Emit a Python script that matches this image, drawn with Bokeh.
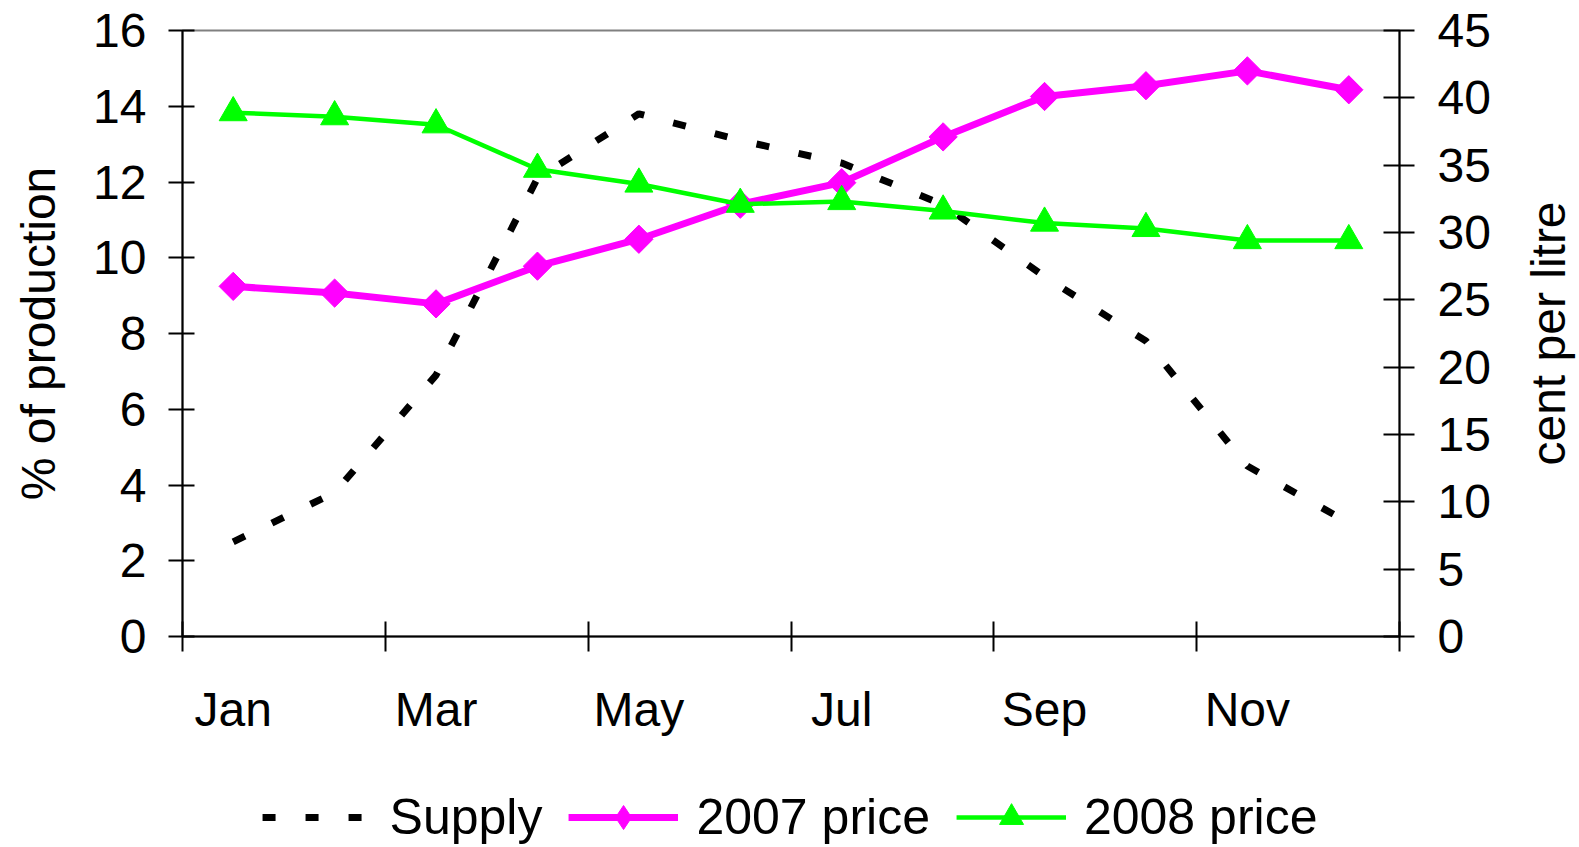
import math
from bokeh.plotting import figure
from bokeh.layouts import column, row
from bokeh.models import LinearAxis, Range1d, FixedTicker, Legend, LegendItem
from bokeh.embed import file_html
from bokeh.resources import INLINE

# ---- data ----
months = ["Jan", "Feb", "Mar", "Apr", "May", "Jun",
          "Jul", "Aug", "Sep", "Oct", "Nov", "Dec"]
supply = [2.5, 3.8, 6.9, 12.1, 13.8, 13.1, 12.5, 11.4, 9.5, 7.8, 4.5, 3.0]
price_2007 = [26.0, 25.5, 24.7, 27.5, 29.5, 32.1, 33.7, 37.1, 40.1, 40.9, 42.0, 40.6]
price_2008 = [38.9, 38.6, 38.0, 34.7, 33.6, 32.1, 32.3, 31.6, 30.7, 30.3, 29.4, 29.4]
left_ticks = [0, 2, 4, 6, 8, 10, 12, 14, 16]
right_ticks = [0, 5, 10, 15, 20, 25, 30, 35, 40, 45]
left_title = "% of production"
right_title = "cent per litre"

FONT = "Liberation Sans"
MAGENTA = "#FF00FF"
GREEN = "#00FF00"

n = len(months)
x = [i + 0.5 for i in range(n)]
label_pos = [i + 0.5 for i in range(0, n, 2)]
label_txt = {float(i + 0.5): months[i] for i in range(0, n, 2)}
boundaries = list(range(0, n + 1, 2))

TOP, BOTTOM = 30, 104
MAIN_H = 740

p = figure(width=1494, height=MAIN_H, x_range=Range1d(0, n), y_range=Range1d(0, 16),
           output_backend="svg", toolbar_location=None,
           x_axis_type=None, y_axis_type=None,
           min_border_left=182, min_border_right=95,
           min_border_top=TOP, min_border_bottom=BOTTOM)
p.extra_y_ranges = {"price": Range1d(0, 45)}
p.outline_line_color = "#808080"
p.outline_line_width = 2
p.background_fill_color = "white"
p.border_fill_color = "white"

# x axis
xa = LinearAxis(ticker=FixedTicker(ticks=label_pos, minor_ticks=boundaries),
                major_label_overrides=label_txt)
xa.axis_line_color = "black"
xa.axis_line_width = 2
xa.major_tick_in = 0
xa.major_tick_out = 0
xa.minor_tick_in = 15
xa.minor_tick_out = 15
xa.minor_tick_line_width = 2
xa.minor_tick_line_color = "black"
xa.major_label_standoff = 31
xa.major_label_text_font = FONT
xa.major_label_text_font_size = "48px"
xa.major_label_text_color = "black"
p.add_layout(xa, "below")

# left y axis
yl = LinearAxis(ticker=FixedTicker(ticks=left_ticks), axis_label=left_title)
yl.axis_line_color = "black"
yl.axis_line_width = 2
yl.major_tick_in = 12
yl.major_tick_out = 14
yl.major_tick_line_width = 2
yl.major_tick_line_color = "black"
yl.minor_tick_line_color = None
yl.major_label_standoff = 22
yl.major_label_text_font = FONT
yl.major_label_text_font_size = "48px"
yl.major_label_text_color = "black"
yl.axis_label_standoff = 25
yl.axis_label_text_font = FONT
yl.axis_label_text_font_size = "48px"
yl.axis_label_text_font_style = "normal"
yl.axis_label_text_color = "black"
p.add_layout(yl, "left")

# right y axis (its title sits in the narrow strip to the right)
yr = LinearAxis(y_range_name="price", ticker=FixedTicker(ticks=right_ticks))
yr.axis_line_color = "black"
yr.axis_line_width = 2
yr.major_tick_in = 16
yr.major_tick_out = 15
yr.major_tick_line_width = 2
yr.major_tick_line_color = "black"
yr.minor_tick_line_color = None
yr.major_label_standoff = 23
yr.major_label_text_font = FONT
yr.major_label_text_font_size = "48px"
yr.major_label_text_color = "black"
p.add_layout(yr, "right")

# series
p.line(x, supply, line_color="black", line_width=7, line_dash="13 30")
p.line(x, price_2007, y_range_name="price", line_color=MAGENTA, line_width=7)
p.scatter(x, price_2007, y_range_name="price", marker="square", angle=math.pi / 4,
          size=20, fill_color=MAGENTA, line_color=MAGENTA)
p.line(x, price_2008, y_range_name="price", line_color=GREEN, line_width=4.5)
p.scatter(x, price_2008, y_range_name="price", marker="triangle",
          size=28, fill_color=GREEN, line_color=GREEN)

# ---- narrow strip holding the right-hand axis title (reads bottom to top) ----
tf = figure(width=85, height=MAIN_H, x_range=Range1d(0, 1), y_range=Range1d(0, 45),
            output_backend="svg", toolbar_location=None,
            x_axis_type=None, y_axis_type=None,
            min_border_left=84, min_border_right=0,
            min_border_top=TOP, min_border_bottom=BOTTOM)
tf.outline_line_color = None
tf.background_fill_color = "white"
tf.border_fill_color = "white"
ta = LinearAxis(ticker=FixedTicker(ticks=[]), axis_label=right_title)
ta.axis_line_color = None
ta.major_tick_line_color = None
ta.minor_tick_line_color = None
ta.major_tick_in = 0
ta.major_tick_out = 0
ta.major_label_standoff = 0
ta.axis_label_standoff = 4
ta.axis_label_text_font = FONT
ta.axis_label_text_font_size = "48px"
ta.axis_label_text_font_style = "normal"
ta.axis_label_text_color = "black"
tf.add_layout(ta, "left")

# ---- legend strip (its renderers lie outside its ranges, only the legend shows) ----
lf = figure(width=1579, height=847 - MAIN_H, x_range=Range1d(100, 101),
            y_range=Range1d(100, 101),
            output_backend="svg", toolbar_location=None,
            x_axis_type=None, y_axis_type=None, min_border=0)
lf.outline_line_color = None
lf.background_fill_color = "white"
lf.border_fill_color = "white"
g_sup = lf.line(x, supply, line_color="black", line_width=7, line_dash="13 30")
g07l = lf.line(x, price_2007, line_color=MAGENTA, line_width=7)
g07m = lf.scatter(x, price_2007, marker="diamond", size=28,
                  fill_color=MAGENTA, line_color=MAGENTA)
g08l = lf.line(x, price_2008, line_color=GREEN, line_width=4.5)
g08m = lf.scatter(x, price_2008, marker="triangle", size=28,
                  fill_color=GREEN, line_color=GREEN)

legend = Legend(items=[LegendItem(label="Supply", renderers=[g_sup]),
                       LegendItem(label="2007 price", renderers=[g07l, g07m]),
                       LegendItem(label="2008 price", renderers=[g08l, g08m])],
                orientation="horizontal", location="bottom",
                glyph_width=110, glyph_height=60, label_standoff=18, spacing=26,
                padding=0, margin=0, border_line_color=None,
                background_fill_alpha=0,
                label_text_font=FONT, label_text_font_size="50px",
                label_text_color="black")
lf.add_layout(legend)

layout = column(row(p, tf, spacing=0), lf, spacing=0)
open("out.html", "w").write(file_html(layout, INLINE))
